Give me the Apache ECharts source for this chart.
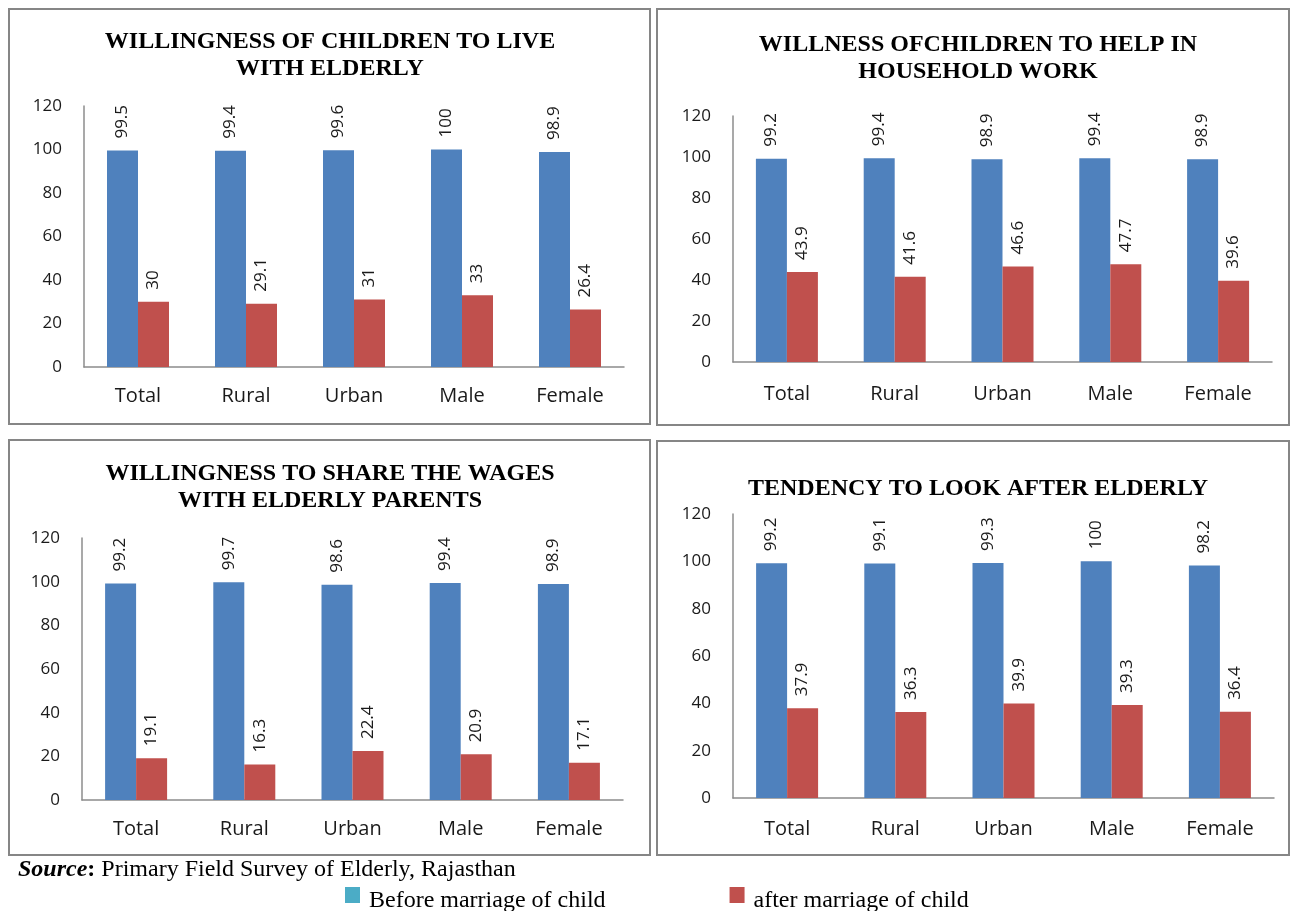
<!DOCTYPE html>
<html>
<head>
<meta charset="utf-8">
<script src="https://cdn.jsdelivr.net/npm/echarts@6/dist/echarts.min.js"></script>
<style>
  html, body { margin: 0; padding: 0; background: #fff; }
  #chart { width: 1291px; height: 911px; }
</style>
</head>
<body>
<div id="chart"></div>
<script>
// Survey categories shared by all four panels
const categories = ['Total', 'Rural', 'Urban', 'Male', 'Female'];
const seriesNames = ['Before marriage of child', 'after marriage of child'];

// Willingness of children to live with elderly
const liveBefore = [99.5, 99.4, 99.6, 100, 98.9];
const liveAfter = [30, 29.1, 31, 33, 26.4];

// Willingness of children to help in household work
const helpBefore = [99.2, 99.4, 98.9, 99.4, 98.9];
const helpAfter = [43.9, 41.6, 46.6, 47.7, 39.6];

// Willingness to share the wages with elderly parents
const wagesBefore = [99.2, 99.7, 98.6, 99.4, 98.9];
const wagesAfter = [19.1, 16.3, 22.4, 20.9, 17.1];

// Tendency to look after elderly
const lookBefore = [99.2, 99.1, 99.3, 100, 98.2];
const lookAfter = [37.9, 36.3, 39.9, 39.3, 36.4];

const panelTitles = [
  'WILLINGNESS OF CHILDREN TO LIVE\nWITH ELDERLY',
  'WILLNESS OFCHILDREN TO HELP IN\nHOUSEHOLD WORK',
  'WILLINGNESS TO SHARE THE WAGES\nWITH ELDERLY PARENTS',
  'TENDENCY TO LOOK AFTER ELDERLY'
];
const panelData = [
  [liveBefore, liveAfter],
  [helpBefore, helpAfter],
  [wagesBefore, wagesAfter],
  [lookBefore, lookAfter]
];

// Layout of each panel: frame box, plot area, title anchor, category label gap
const layout = [
  { box: [9, 9, 641, 415],     grid: { left: 84,  top: 106, width: 540, height: 261 }, titleX: 330, titleY: 28,  xMargin: 19 },
  { box: [657, 9, 632, 416],   grid: { left: 733, top: 116, width: 539, height: 246 }, titleX: 978, titleY: 31,  xMargin: 22 },
  { box: [9, 440, 641, 415],   grid: { left: 82,  top: 538, width: 541, height: 262 }, titleX: 330, titleY: 460, xMargin: 19 },
  { box: [657, 441, 632, 414], grid: { left: 733, top: 514, width: 541, height: 284 }, titleX: 978, titleY: 475, xMargin: 21 }
];

const barColors = ['#4f81bd', '#c0504d'];
const sans = '"Open Sans", "Noto Sans", sans-serif';
const serif = '"Liberation Serif", "DejaVu Serif", serif';

const grids = [], xAxes = [], yAxes = [], series = [], titles = [], frames = [];

layout.forEach((p, i) => {
  grids.push(Object.assign({ containLabel: false }, p.grid));
  xAxes.push({
    type: 'category', gridIndex: i, data: categories,
    axisLine: { lineStyle: { color: '#8c8c8c', width: 1.5 } },
    axisTick: { show: false },
    axisLabel: { color: '#1a1a1a', fontSize: 20, fontFamily: sans, margin: p.xMargin }
  });
  yAxes.push({
    type: 'value', gridIndex: i, min: 0, max: 120, interval: 20,
    axisLine: { show: true, lineStyle: { color: '#8c8c8c', width: 1.5 } },
    axisTick: { show: false },
    splitLine: { show: false },
    axisLabel: { color: '#1a1a1a', fontSize: 17, fontFamily: sans, margin: 22 }
  });
  panelData[i].forEach((vals, s) => {
    series.push({
      type: 'bar', name: seriesNames[s], xAxisIndex: i, yAxisIndex: i,
      data: vals, barWidth: 31, barGap: '0%',
      itemStyle: { color: barColors[s] },
      label: {
        show: true, position: 'top', rotate: 90, distance: 12,
        align: 'left', verticalAlign: 'middle',
        color: '#1a1a1a', fontSize: 17, fontFamily: sans
      }
    });
  });
  titles.push({
    text: panelTitles[i], left: p.titleX, top: p.titleY, textAlign: 'center', padding: 0,
    textStyle: { fontFamily: serif, fontWeight: 'bold', fontSize: 24, lineHeight: 27, color: '#000' }
  });
  frames.push({
    type: 'rect', silent: true,
    shape: { x: p.box[0], y: p.box[1], width: p.box[2], height: p.box[3] },
    style: { fill: null, stroke: '#868686', lineWidth: 2 }
  });
});

// Source note under the panels
titles.push({
  text: '{b|Source}{c|:} Primary Field Survey of Elderly, Rajasthan',
  left: 18, top: 858, padding: 0,
  textStyle: {
    fontFamily: serif, fontSize: 24, color: '#000', fontWeight: 'normal',
    rich: {
      b: { fontFamily: serif, fontSize: 24, fontWeight: 'bold', fontStyle: 'italic', color: '#000' },
      c: { fontFamily: serif, fontSize: 24, fontWeight: 'bold', color: '#000' }
    }
  }
});

// Legend swatch: a small square sitting slightly above the label's middle line
// (the zero-area stroke at the bottom only stretches the icon's box).
const legendIcon = 'path://M0,0H15V16H0Z M0,27H19';

const chart = echarts.init(document.getElementById('chart'), null, { renderer: 'canvas' });
chart.setOption({
  animation: false,
  backgroundColor: '#fff',
  title: titles,
  grid: grids,
  xAxis: xAxes,
  yAxis: yAxes,
  series: series,
  legend: {
    left: 345, top: 887, padding: 0,
    itemWidth: 19, itemHeight: 27, itemGap: 124,
    icon: legendIcon,
    data: [
      { name: seriesNames[0], itemStyle: { color: '#4bacc6' } },
      { name: seriesNames[1], itemStyle: { color: '#c0504d' } }
    ],
    textStyle: { fontFamily: serif, fontSize: 24, color: '#000' }
  },
  graphic: frames
});
</script>
</body>
</html>
